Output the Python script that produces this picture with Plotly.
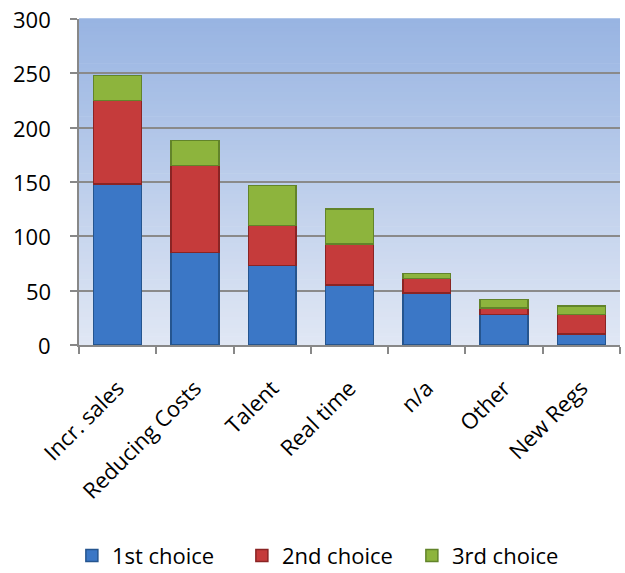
import plotly.graph_objects as go

categories = ["Incr. sales", "Reducing Costs", "Talent", "Real time", "n/a", "Other", "New Regs"]
first_choice = [148, 85, 73, 55, 48, 28, 10]
second_choice = [77, 80, 37, 38, 13, 6, 18]
third_choice = [23, 23, 37, 32, 5, 8, 8]
y_ticks = [0, 50, 100, 150, 200, 250, 300]

series = [
    ("1st choice", first_choice, "#3B77C6", "#25558F"),
    ("2nd choice", second_choice, "#C53B3B", "#8A2424"),
    ("3rd choice", third_choice, "#8DB43D", "#62842A"),
]

FONT = "Open Sans, Lato, sans-serif"
FSIZE = 22

fig = go.Figure()
for name, vals, color, edge in series:
    fig.add_trace(go.Bar(
        name=name,
        x=categories,
        y=vals,
        marker=dict(color=color, line=dict(color=edge, width=1.5)),
    ))

# vertical gradient behind the plotting area
top_rgb = (0x98, 0xB4, 0xE2)
bot_rgb = (0xE0, 0xE7, 0xF4)
n_bands = 80
shapes = []
for i in range(n_bands):
    t = i / (n_bands - 1)
    r, g, b = (round(bot_rgb[k] + (top_rgb[k] - bot_rgb[k]) * t) for k in range(3))
    shapes.append(dict(
        type="rect", xref="paper", yref="paper",
        x0=0, x1=1, y0=i / n_bands, y1=(i + 1) / n_bands + 0.002,
        fillcolor=f"rgb({r},{g},{b})", line=dict(width=0), layer="below",
    ))

# y tick labels set a little further out from the axis line
tick_labels = [
    dict(x=0, xref="paper", y=v, yref="y", text=str(v), showarrow=False,
         xanchor="right", yanchor="middle", xshift=-26,
         font=dict(family=FONT, size=FSIZE, color="black"))
    for v in y_ticks
]

fig.update_layout(
    width=625, height=573,
    margin=dict(l=79, r=5, t=19, b=228, autoexpand=False),
    barmode="stack",
    bargap=0.38,
    paper_bgcolor="white",
    plot_bgcolor="rgba(0,0,0,0)",
    shapes=shapes,
    annotations=tick_labels,
    font=dict(family=FONT, size=FSIZE, color="black"),
    showlegend=True,
    legend=dict(
        orientation="h",
        xref="container", x=0.523, xanchor="center",
        yref="container", y=0.03, yanchor="middle",
        font=dict(family=FONT, size=FSIZE, color="black"),
        itemwidth=30, traceorder="normal",
        entrywidth=125, entrywidthmode="pixels",
    ),
    xaxis=dict(
        tickangle=-45,
        tickson="boundaries",
        ticks="outside", ticklen=7, tickcolor="#888888", tickwidth=1.5,
        ticklabelstandoff=20,
        showline=True, linecolor="#888888", linewidth=1.5,
        showgrid=False,
        tickfont=dict(family=FONT, size=FSIZE, color="black"),
    ),
    yaxis=dict(
        range=[0, 300], tickvals=y_ticks,
        showticklabels=False,
        ticks="outside", ticklen=7, tickcolor="#888888", tickwidth=1.5,
        showline=True, linecolor="#888888", linewidth=1.5,
        showgrid=True, gridcolor="#8A8A8A", gridwidth=1.5,
        zeroline=False,
    ),
)

fig.write_html("out.html")
